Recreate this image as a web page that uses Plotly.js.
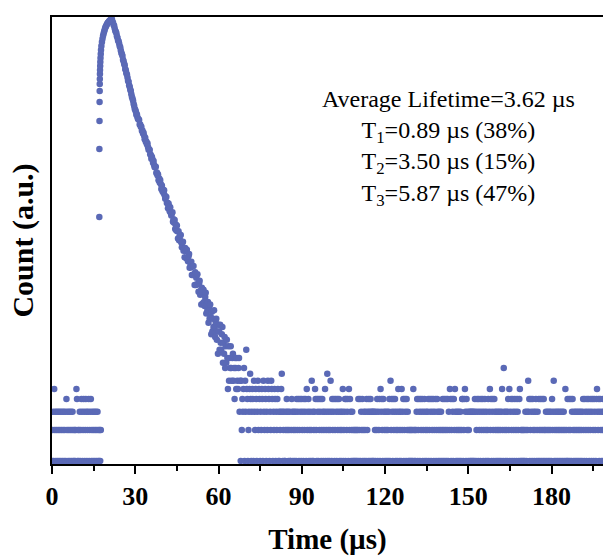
<!DOCTYPE html>
<html><head><meta charset="utf-8">
<script src="https://cdn.plot.ly/plotly-3.0.1.min.js"></script>
<style>html,body{margin:0;padding:0;background:#fff;}#chart{width:603px;height:558px;}</style>
</head><body><div id="chart"></div>
<script>
// ---- data (time in µs, photon counts per 0.2 µs channel) ----
const channelWidth = 0.2;
const bgBeforeStart = 0;
const bgBeforeCounts = [
 1,2,3,1,5,2,3,1,2,3, 1,2,3,1,2,3,1,2,3,1, 2,3,1,2,3,1,4,2,3,1, 2,3,1,2,3,1,2,3,1,2,
 1,2,1,2,5,4,1,2,1,2, 3,1,2,4,3,1,2,4,3,1, 2,4,3,1,2,3,4,1,2,3, 4,1,2,3,1,2,3,1,2,3,
 1,2,3,1,2,1,2,1,2];
const riseTime  = [17.05,17.07,17.12,17.15,17.19,17.21,17.24,17.28,17.31,17.36,17.41,17.48,17.57,17.66,17.80];
const riseCount = [234,1069,2000,3057,3910,4573,5114,5718,6256,6838,7477,8182,8941,9779,10690];
const decayStart = 18.0;
const decayCounts = [
 11690,12540,13450,14110,14800,15420,16060,16480,16900,17350,17800,18050,18290,18560,18830,19030,19230,19350,
 19470,18410,17980,17110,16820,15830,15040,14710,14200,13310,
 12850,12050,11850,11260,10600,10360,9680,9180,8880,8530,
 7860,7600,7180,6930,6390,6210,5800,5640,5270,4910,
 4800,4440,4290,4030,3910,3630,3410,3300,3150,2930,
 2814,2630,2570,2463,2300,2326,2173,2084,2072,2039,
 1851,1843,1755,1753,1601,1618,1512,1535,1433,1328,
 1370,1252,1262,1190,1212,1115,1048,1062,1042,948,
 935,857,898,851,783,817,745,709,717,716,
 623,633,595,608,532,555,506,533,487,437,
 473,415,431,400,424,379,351,368,365,320,
 321,284,316,297,265,291,255,242,254,260,
 210,222,205,218,179,197,173,193,170,144,
 170,139,153,138,156,132,119,133,134,110,
 115,95,117,109,93,112,93,87,97,102,
 75,84,76,86,64,77,64,78,65,51,
 68,51,60,52,65,52,44,53,56,41,
 45,33,48,44,34,46,35,32,39,43,
 27,33,29,35,22,31,24,33,25,17,
 28,18,24,20,29,20,16,22,24,15,
 18,11,21,18,12,21,14,12,17,20,
 9,14,11,16,8,13,9,15,10,5,
 13,6,10,8,13,8,6,10,11,6,
 8,4,10,8,5,10,6,5,8,10,
 3,6];
const bgAfterStart = 68.0;
const bgAfterCounts = [
 1,6,2,4,3,5,8,1,6,3, 12,5,4,1,2,3,5,7,4,1, 3,5,4,1,6,3,2,5,4,1, 3,6,2,5,4,1,3,2,5,4,
 1,6,3,2,5,4,1,3,2,6, 5,4,1,3,2,6,5,4,1,3, 2,5,4,1,3,2,4,5,1,3,
 1,2,3,5,7,3,1,2,3,1, 1,2,3,4,2,3,1,2,3,1, 1,2,4,3,1,2,3,1,2,3, 1,4,2,3,4,1,2,4,3,1,
 4,2,3,1,4,2,3,4,1,5, 2,3,4,1,2,3,1,2,6,1, 3,1,2,3,5,4,2,1,4,3, 1,4,2,3,4,1,2,4,3,1,
 2,3,5,1,2,3,7,1,2,3, 1,2,6,3,1,4,2,3,4,1, 2,4,3,1,4,2,3,4,1,2, 3,1,2,3,5,1,2,3,4,1,
 4,2,3,4,1,5,2,4,3,1, 2,3,1,2,1,2,1,2,1,2, 1,2,4,1,2,4,1,3,2,4, 1,2,3,1,2,3,1,4,2,3,
 1,4,3,1,4,3,1,3,1,3, 1,3,2,1,3,2,4,1,3,2, 4,1,5,3,4,2,1,4,3,2, 1,3,2,1,3,2,1,3,4,1,
 6,2,4,3,1,4,2,3,4,1, 2,3,1,2,5,3,1,2,3,1, 5,2,3,4,1,2,4,3,1,4, 2,3,1,2,1,2,1,2,1,2,
 1,5,2,1,2,1,2,3,4,1, 2,4,3,1,4,2,3,4,1,2, 3,4,1,2,3,1,2,3,4,1, 2,4,3,1,4,2,3,4,1,2,
 3,4,1,2,4,3,1,2,3,1, 2,3,1,2,4,1,2,4,1,2, 4,1,2,4,1,3,2,5,4,1, 2,4,3,1,4,2,5,3,1,2,
 3,1,2,3,1,2,3,1,2,4, 4,1,2,4,5,3,1,4,2,3, 1,2,3,1,3,1,3,1,3,1, 3,1,4,3,1,2,4,3,1,4,
 2,3,1,4,2,3,4,1,2,3, 4,1,2,3,1,2,4,1,3,5, 2,4,1,3,4,2,1,4,3,2, 1,3,2,1,3,2,1,3,2,1,
 3,5,2,1,8,3,2,1,3,2, 1,3,4,2,5,1,3,4,2,1, 4,3,2,1,4,3,2,1,4,3, 2,1,4,5,1,2,1,2,1,2,
 1,2,1,3,2,1,3,2,6,3, 4,1,2,4,3,1,4,2,3,1, 2,3,4,1,2,3,1,4,2,1, 4,2,1,4,2,1,4,2,1,2,
 3,1,2,3,1,2,3,1,2,3, 1,4,2,3,6,1,2,3,1,2, 3,1,2,3,1,2,3,1,2,3, 1,2,3,1,2,5,1,2,1,4,
 1,2,4,1,2,4,1,3,4,2, 1,3,2,1,3,2,1,3,2,1, 3,2,1,3,2,1,3,4,2,1, 4,3,2,1,4,3,2,4,1,3,
 2,4,1,3,4,2,1,4,3,2, 1,4,5,3,2,4,1,3,4,2, 1,3,2,4,1,3,2,1,3,2];
const xTickVals = [0,30,60,90,120,150,180];
const avgLifetime = 3.62;
const tauValues = [0.89, 3.50, 5.87];
const tauFractions = [38, 15, 47];

// ---- assemble ----
const xs = [], ys = [];
function addChannels(start, counts){
  counts.forEach((c,i)=>{ if(c>0){ xs.push(+(start + i*channelWidth).toFixed(2)); ys.push(c);} });
}
addChannels(bgBeforeStart, bgBeforeCounts);
riseTime.forEach((t,i)=>{ xs.push(t); ys.push(riseCount[i]); });
addChannels(decayStart, decayCounts);
addChannels(bgAfterStart, bgAfterCounts);

const serif = "'Liberation Serif', 'Times New Roman', serif";
const lines = ['Average Lifetime=' + avgLifetime.toFixed(2) + ' µs'];
tauValues.forEach((t,i)=>{ lines.push('T<sub>'+(i+1)+'</sub>=' + t.toFixed(2) + ' µs (' + tauFractions[i] + '%)'); });

const trace = {
  x: xs, y: ys, type: 'scatter', mode: 'markers',
  marker: {size: 6.5, color: 'rgb(90,105,182)', line: {width: 0}},
  hoverinfo: 'skip', showlegend: false
};

const layout = {
  width: 603, height: 558,
  margin: {l: 52, r: 0, t: 17, b: 94},
  paper_bgcolor: '#fff', plot_bgcolor: '#fff',
  showlegend: false,
  xaxis: {
    range: [0, 198.56], tickvals: xTickVals, ticktext: xTickVals.map(String),
    ticks: 'outside', ticklen: 8, tickwidth: 2, tickcolor: '#000',
    minor: {dtick: 15, tick0: 0, ticks: 'outside', ticklen: 5, tickwidth: 2, tickcolor: '#000', showgrid: false},
    showline: true, linewidth: 2, linecolor: '#000', mirror: true,
    showgrid: false, zeroline: false,
    tickfont: {family: serif, size: 26, color: '#000', weight: 'bold'},
    title: {text: 'Time (µs)', font: {family: serif, size: 29, color: '#000', weight: 'bold'}, standoff: 18}
  },
  yaxis: {
    type: 'log', range: [-0.03, 4.31],
    showticklabels: false, ticks: '',
    showline: true, linewidth: 2, linecolor: '#000', mirror: false,
    showgrid: false, zeroline: false,
    title: {text: 'Count (a.u.)', font: {family: serif, size: 30, color: '#000', weight: 'bold'}, standoff: 8}
  },
  annotations: [{
    xref: 'paper', yref: 'paper', x: 0.7187, y: 0.850, xanchor: 'center', yanchor: 'top',
    text: lines.join('<br>'), showarrow: false, align: 'center',
    font: {family: serif, size: 24, color: '#000'}
  }]
};

Plotly.newPlot('chart', [trace], layout, {staticPlot: true, displayModeBar: false});
</script>
</body></html>
